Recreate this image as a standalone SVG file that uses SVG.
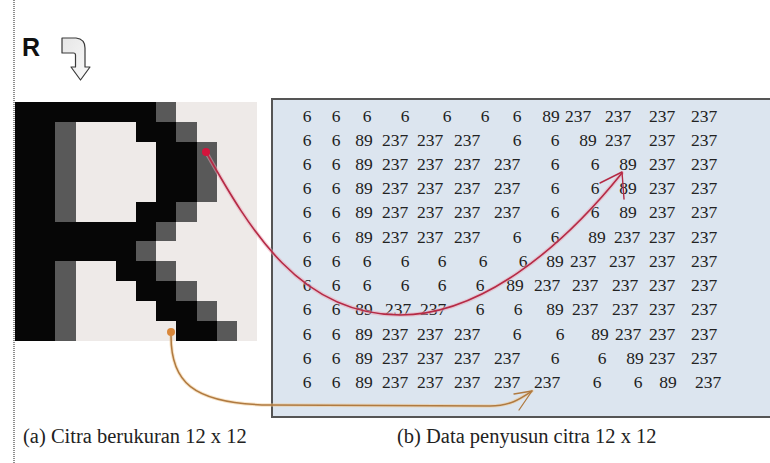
<svg xmlns="http://www.w3.org/2000/svg" width="770" height="463" viewBox="0 0 770 463">
<defs>
<style>
.num{font-family:"Liberation Serif","Times New Roman",serif;font-size:17.5px;fill:#222;text-anchor:middle}
.cap{font-family:"Liberation Serif","Times New Roman",serif;font-size:20.5px;fill:#222}
.k{fill:#060606}.g{fill:#595959}.w{fill:#eeeae8}
</style>
<linearGradient id="arrFill" x1="0" y1="0" x2="1" y2="1">
<stop offset="0" stop-color="#e6e6e6"/><stop offset="1" stop-color="#fafafa"/>
</linearGradient>
</defs>
<rect width="770" height="463" fill="#ffffff"/>
<line x1="14" y1="0" x2="14" y2="463" stroke="#444" stroke-width="1.2" stroke-dasharray="1,1"/>

<g id="letter-R"><text x="22" y="55.5" font-family="Liberation Sans,Arial,sans-serif" font-weight="bold" font-size="25" fill="#111">R</text></g>
<g id="turn-arrow"><path d="M62,38 L76,38 Q85,39 85,48 L85,67 L90,67 L80.5,80 L71,67 L75.5,67 L75.5,55 Q75.5,53 73.5,53 L62,53 Z" fill="url(#arrFill)" stroke="#3a3a3a" stroke-width="1.2" stroke-linejoin="round"/></g>

<g id="image-a" shape-rendering="crispEdges">
<g transform="translate(15,102) scale(20.17,19.92)">
<rect class="k" x="0" y="0" width="12" height="12"/>
<rect class="g" x="7" y="0" width="1" height="1"/><rect class="w" x="8" y="0" width="4" height="1"/>
<rect class="g" x="2" y="1" width="1" height="1"/><rect class="w" x="3" y="1" width="3" height="1"/><rect class="g" x="8" y="1" width="1" height="1"/><rect class="w" x="9" y="1" width="3" height="1"/>
<rect class="g" x="2" y="2" width="1" height="3"/><rect class="w" x="3" y="2" width="4" height="3"/><rect class="g" x="9" y="2" width="1" height="3"/><rect class="w" x="10" y="2" width="2" height="3"/>
<rect class="g" x="2" y="5" width="1" height="1"/><rect class="w" x="3" y="5" width="3" height="1"/><rect class="g" x="8" y="5" width="1" height="1"/><rect class="w" x="9" y="5" width="3" height="1"/>
<rect class="g" x="7" y="6" width="1" height="1"/><rect class="w" x="8" y="6" width="4" height="1"/>
<rect class="g" x="6" y="7" width="1" height="1"/><rect class="w" x="7" y="7" width="5" height="1"/>
<rect class="g" x="2" y="8" width="1" height="1"/><rect class="w" x="3" y="8" width="2" height="1"/><rect class="g" x="7" y="8" width="1" height="1"/><rect class="w" x="8" y="8" width="4" height="1"/>
<rect class="g" x="2" y="9" width="1" height="1"/><rect class="w" x="3" y="9" width="3" height="1"/><rect class="g" x="8" y="9" width="1" height="1"/><rect class="w" x="9" y="9" width="3" height="1"/>
<rect class="g" x="2" y="10" width="1" height="1"/><rect class="w" x="3" y="10" width="4" height="1"/><rect class="g" x="9" y="10" width="1" height="1"/><rect class="w" x="10" y="10" width="2" height="1"/>
<rect class="g" x="2" y="11" width="1" height="1"/><rect class="w" x="3" y="11" width="5" height="1"/><rect class="g" x="10" y="11" width="1" height="1"/><rect class="w" x="11" y="11" width="1" height="1"/>
</g>
</g>

<g id="table-b">
<rect x="272" y="99" width="510" height="318" fill="#dce5ef" stroke="#555" stroke-width="2"/>
<text class="num" y="122"><tspan x="307">6</tspan><tspan x="336">6</tspan><tspan x="367">6</tspan><tspan x="405">6</tspan><tspan x="447">6</tspan><tspan x="485">6</tspan><tspan x="517">6</tspan><tspan x="551">89</tspan><tspan x="578">237</tspan><tspan x="618">237</tspan><tspan x="662">237</tspan><tspan x="704">237</tspan></text>
<text class="num" y="146"><tspan x="307">6</tspan><tspan x="336">6</tspan><tspan x="364">89</tspan><tspan x="395">237</tspan><tspan x="430">237</tspan><tspan x="467">237</tspan><tspan x="517">6</tspan><tspan x="555">6</tspan><tspan x="588">89</tspan><tspan x="618">237</tspan><tspan x="662">237</tspan><tspan x="704">237</tspan></text>
<text class="num" y="170"><tspan x="307">6</tspan><tspan x="336">6</tspan><tspan x="364">89</tspan><tspan x="395">237</tspan><tspan x="430">237</tspan><tspan x="467">237</tspan><tspan x="507">237</tspan><tspan x="555">6</tspan><tspan x="595">6</tspan><tspan x="628">89</tspan><tspan x="662">237</tspan><tspan x="704">237</tspan></text>
<text class="num" y="194"><tspan x="307">6</tspan><tspan x="336">6</tspan><tspan x="364">89</tspan><tspan x="395">237</tspan><tspan x="430">237</tspan><tspan x="467">237</tspan><tspan x="507">237</tspan><tspan x="555">6</tspan><tspan x="595">6</tspan><tspan x="628">89</tspan><tspan x="662">237</tspan><tspan x="704">237</tspan></text>
<text class="num" y="218"><tspan x="307">6</tspan><tspan x="336">6</tspan><tspan x="364">89</tspan><tspan x="395">237</tspan><tspan x="430">237</tspan><tspan x="467">237</tspan><tspan x="507">237</tspan><tspan x="555">6</tspan><tspan x="595">6</tspan><tspan x="628">89</tspan><tspan x="662">237</tspan><tspan x="704">237</tspan></text>
<text class="num" y="243"><tspan x="307">6</tspan><tspan x="336">6</tspan><tspan x="364">89</tspan><tspan x="395">237</tspan><tspan x="430">237</tspan><tspan x="467">237</tspan><tspan x="517">6</tspan><tspan x="555">6</tspan><tspan x="597">89</tspan><tspan x="627">237</tspan><tspan x="662">237</tspan><tspan x="704">237</tspan></text>
<text class="num" y="267"><tspan x="307">6</tspan><tspan x="336">6</tspan><tspan x="367">6</tspan><tspan x="405">6</tspan><tspan x="442">6</tspan><tspan x="483">6</tspan><tspan x="523">6</tspan><tspan x="555">89</tspan><tspan x="583">237</tspan><tspan x="622">237</tspan><tspan x="662">237</tspan><tspan x="704">237</tspan></text>
<text class="num" y="291"><tspan x="307">6</tspan><tspan x="336">6</tspan><tspan x="367">6</tspan><tspan x="405">6</tspan><tspan x="442">6</tspan><tspan x="480">6</tspan><tspan x="515">89</tspan><tspan x="547">237</tspan><tspan x="585">237</tspan><tspan x="625">237</tspan><tspan x="662">237</tspan><tspan x="704">237</tspan></text>
<text class="num" y="315"><tspan x="307">6</tspan><tspan x="336">6</tspan><tspan x="364">89</tspan><tspan x="398">237</tspan><tspan x="433">237</tspan><tspan x="480">6</tspan><tspan x="518">6</tspan><tspan x="555">89</tspan><tspan x="585">237</tspan><tspan x="625">237</tspan><tspan x="662">237</tspan><tspan x="704">237</tspan></text>
<text class="num" y="340"><tspan x="307">6</tspan><tspan x="336">6</tspan><tspan x="364">89</tspan><tspan x="395">237</tspan><tspan x="430">237</tspan><tspan x="467">237</tspan><tspan x="517">6</tspan><tspan x="560">6</tspan><tspan x="600">89</tspan><tspan x="628">237</tspan><tspan x="662">237</tspan><tspan x="704">237</tspan></text>
<text class="num" y="364"><tspan x="307">6</tspan><tspan x="336">6</tspan><tspan x="364">89</tspan><tspan x="395">237</tspan><tspan x="430">237</tspan><tspan x="467">237</tspan><tspan x="507">237</tspan><tspan x="555">6</tspan><tspan x="602">6</tspan><tspan x="635">89</tspan><tspan x="662">237</tspan><tspan x="704">237</tspan></text>
<text class="num" y="388"><tspan x="307">6</tspan><tspan x="336">6</tspan><tspan x="364">89</tspan><tspan x="395">237</tspan><tspan x="430">237</tspan><tspan x="467">237</tspan><tspan x="507">237</tspan><tspan x="547">237</tspan><tspan x="597">6</tspan><tspan x="638">6</tspan><tspan x="668">89</tspan><tspan x="708">237</tspan></text>
</g>

<g id="caption-a"><text class="cap" x="23" y="443">(a) Citra berukuran 12 x 12</text></g>
<g id="caption-b"><text class="cap" x="397" y="443">(b) Data penyusun citra 12 x 12</text></g>

<g id="connectors" fill="none" stroke-linecap="round" stroke-linejoin="round">
<path d="M206,152 C250,230 300,315 400,315 C480,315 560,250 622,173" stroke="#eaa5b5" stroke-width="4" opacity="0.5"/>
<path d="M206,152 C250,230 300,315 400,315 C480,315 560,250 622,173" stroke="#b52a45" stroke-width="1.6"/>
<path d="M600,183 L622,172 L624,199" stroke="#b52a45" stroke-width="1.4"/>
<circle cx="206" cy="152" r="4" fill="#d4143c" stroke="none"/>
<path d="M171,336 C171,380 190,404 270,405 L490,406 C510,406 520,399 532,391" stroke="#f0c890" stroke-width="3.5" opacity="0.5"/>
<path d="M171,336 C171,380 190,404 270,405 L490,406 C510,406 520,399 532,391" stroke="#b07a40" stroke-width="1.5"/>
<path d="M514,394 L532,391 L519,410" stroke="#b07a40" stroke-width="1.3"/>
<circle cx="171" cy="332" r="4" fill="#d9873a" stroke="none"/>
</g>
</svg>
